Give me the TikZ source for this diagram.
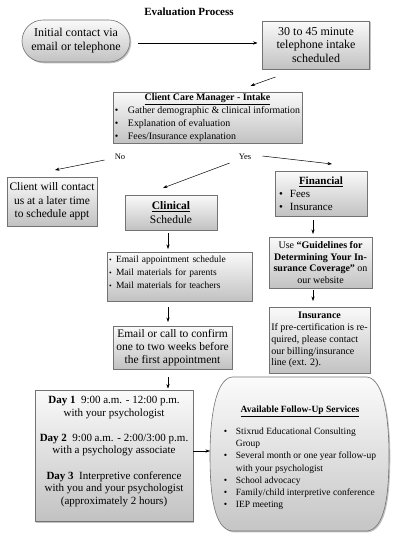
\documentclass[tikz,border=0pt]{standalone}
\usepackage{fontspec}
\setmainfont{Liberation Serif}
\usetikzlibrary{shadows,calc,arrows.meta}
\newcommand{\bl}[1]{\makebox[#1][l]{\textbullet}}
\begin{document}
\begin{tikzpicture}[x=1pt,y=-1pt,
  gbox/.style={draw=black!55, line width=0.6pt, top color=gray!4, bottom color=gray!48,
    drop shadow={shadow xshift=1.3pt, shadow yshift=-1.3pt, fill=black!40, opacity=0.6},
    inner sep=0pt, outer sep=0pt},
  arr/.style={-{Stealth[length=4.5pt,width=3.2pt]}, line width=0.5pt, black},
  lbl/.style={font=\fontsize{8.5}{10}\selectfont, inner sep=0pt},
]
\useasboundingbox (0,0) rectangle (400,535);

\node[font=\fontsize{11}{13}\selectfont\bfseries, inner sep=0pt] (title) at (189,12) {Evaluation Process};

\node[gbox, rounded corners=21pt, minimum width=108pt, minimum height=42pt, align=center,
  font=\fontsize{12}{14}\selectfont] (init) at (76,41) {Initial contact via\\email or telephone};

\node[gbox, minimum width=107pt, minimum height=48pt, align=center,
  font=\fontsize{12}{13.5}\selectfont] (intake) at (316,45) {30 to 45 minute\\telephone intake\\scheduled};

\node[gbox, minimum width=189pt, minimum height=51pt,
  font=\fontsize{9.9}{12.7}\selectfont] (ccm) at (207.5,117.5)
  {\begin{tabular}{@{}l@{}}
   \multicolumn{1}{@{}c@{}}{\textbf{\underline{Client Care Manager - Intake}}}\\
   \bl{13pt}Gather demographic \& clinical information\\
   \bl{13pt}Explanation of evaluation\\
   \bl{13pt}Fees/Insurance explanation
   \end{tabular}};

\node[lbl] (no) at (120,157) {No};
\node[lbl] (yes) at (245,157) {Yes};

\node[gbox, minimum width=90pt, minimum height=49pt, align=center,
  font=\fontsize{11.5}{13.5}\selectfont] (client) at (52,201.5)
  {Client will contact\\us at a later time\\to schedule appt};

\node[gbox, minimum width=92pt, minimum height=35pt, align=center,
  font=\fontsize{11.5}{14}\selectfont] (clin) at (171,212.5)
  {\textbf{\underline{Clinical}}\\Schedule};

\node[gbox, minimum width=92pt, minimum height=45pt, text width=84pt, align=left,
  font=\fontsize{11}{13}\selectfont] (fin) at (321,193.5)
  {\makebox[84pt]{\textbf{\underline{Financial}}}\\
   \bl{11pt}Fees\\
   \bl{11pt}Insurance};

\node[gbox, minimum width=145pt, minimum height=49pt, text width=141pt, align=left,
  font=\fontsize{9.5}{13}\selectfont] (email) at (179.5,276.5)
  {\makebox[7pt][l]{\scalebox{0.8}{\textbullet}}Email appointment schedule\\
   \makebox[7pt][l]{\scalebox{0.8}{\textbullet}}Mail materials for parents\\
   \makebox[7pt][l]{\scalebox{0.8}{\textbullet}}Mail materials for teachers\\[-4pt]\mbox{}};

\node[gbox, minimum width=103pt, minimum height=51pt, align=center,
  font=\fontsize{10}{11.8}\selectfont] (guide) at (320.5,262.5)
  {Use \textbf{“Guidelines for}\\\textbf{Determining Your In-}\\\textbf{surance Coverage”} on\\our website};

\node[gbox, minimum width=101pt, minimum height=66pt,
  font=\fontsize{10}{11.7}\selectfont] (ins) at (319.5,340)
  {\begin{tabular}{@{}l@{}}
   \multicolumn{1}{@{}c@{}}{\textbf{Insurance}}\\
   If pre-certification is re-\\quired, please contact\\our billing/insurance\\line (ext. 2).
   \end{tabular}};

\node[gbox, minimum width=119pt, minimum height=43pt, align=center,
  font=\fontsize{11.5}{13.3}\selectfont] (confirm) at (172.5,347.5)
  {Email or call to confirm\\one to two weeks before\\the first appointment};

\node[gbox, minimum width=158pt, minimum height=131pt, align=center,
  font=\fontsize{11}{12.6}\selectfont] (day) at (114,456)
  {\textbf{Day 1}\ \ 9:00 a.m. - 12:00 p.m.\\with your psychologist\\[12.6pt]
   \textbf{Day 2}\ \ 9:00 a.m. - 2:00/3:00 p.m.\\with a psychology associate\\[12.6pt]
   \textbf{Day 3}\ \ Interpretive conference\\with you and your psychologist\\(approximately 2 hours)\\[-1pt]\mbox{}};

% follow-up shape
\path[draw=black!55, line width=0.6pt, top color=gray!3, bottom color=gray!45,
  drop shadow={shadow xshift=1.3pt, shadow yshift=-1.3pt, fill=black!40, opacity=0.6}]
  (232,377) -- (367,377) .. controls (384,379) and (389,420) .. (389,455)
  .. controls (389,495) and (385,529) .. (367,531) -- (232,531)
  .. controls (214,529) and (210,495) .. (210,455)
  .. controls (210,420) and (215,379) .. (232,377) -- cycle;
\coordinate (followleft) at (210,451);
\node[inner sep=0pt, anchor=north, font=\fontsize{9.5}{12.3}\selectfont] (follow) at (300,404)
  {\begin{tabular}{@{}l@{}}
   \multicolumn{1}{@{}c@{}}{\textbf{\underline{Available Follow-Up Services}}}\\[9pt]
   \bl{12pt}Stixrud Educational Consulting\\
   \hspace*{12pt}Group\\
   \bl{12pt}Several month or one year follow-up\\
   \hspace*{12pt}with your psychologist\\
   \bl{12pt}School advocacy\\
   \bl{12pt}Family/child interpretive conference\\
   \bl{12pt}IEP meeting
   \end{tabular}};

% connectors
\draw[arr] ($(init.east)+(8,2)$) -- ($(init.east -| intake.west)+(-5,2)$);
\draw[arr] ($(intake.south west)+(13,8)$) -- ($(ccm.north)+(43,-6)$);
\draw[arr] ($(no.west)+(-10,3)$) -- ($(client.north)+(3,-7)$);
\draw[arr] ($(yes.west)+(-9,6)$) -- ($(clin.north)+(-8,-7)$);
\draw[arr] ($(yes.east)+(11,-1)$) -- ($(fin.north)+(11,-7)$);
\draw[arr] ($(clin.south)+(-3,3)$) -- ($(clin.south |- email.north)+(-3,-3)$);
\draw[arr] ($(fin.south)+(-8,4)$) -- ($(fin.south |- guide.north)+(-8,-3)$);
\draw[arr] ($(guide.south)+(-7.5,2)$) -- ($(guide.south |- ins.north)+(-7.5,-6)$);
\draw[arr] ($(clin.south |- email.south)+(-3,6)$) -- ($(clin.south |- confirm.north)+(-3,-4)$);
\draw[arr] ($(clin.south |- confirm.south)+(-3,8)$) -- ($(clin.south |- day.north)+(-3,-2)$);
\draw[arr] (day.east |- followleft) -- (followleft);
\end{tikzpicture}
\end{document}
